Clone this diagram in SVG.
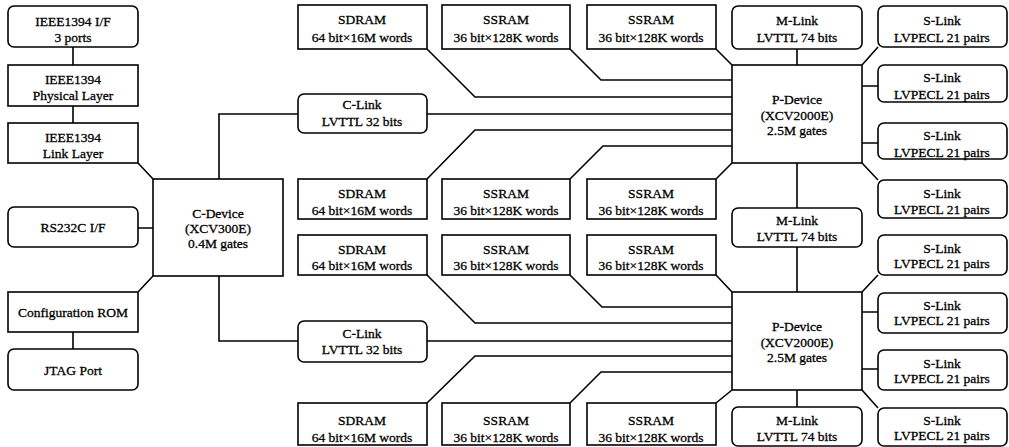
<svg xmlns="http://www.w3.org/2000/svg" width="1009" height="447" viewBox="0 0 1009 447">
<style>
.box{fill:#fff;stroke:#000;stroke-width:1.6}
.conn{fill:none;stroke:#000;stroke-width:1.6;stroke-linejoin:miter}
text{font-family:"Liberation Serif","Times New Roman",serif;font-size:13.5px;text-anchor:middle;dominant-baseline:central;fill:#000;stroke:#000;stroke-width:0.3}
</style>
<rect width="1009" height="447" fill="#fff"/>
<g id="connectors" class="conn">
<path d="M73,47V65M73,106V123M138,163L153,179M138,228H153M138,292L153,276M73,332V349"/>
<path d="M219,179V114H298M219,276V341H298"/>
<path d="M427,114H732M427,341H732"/>
<path d="M427,49L475,97H732M570,49L601,80H732M716,49L732,65"/>
<path d="M427,179L475,130H732M570,179L603,146H732M716,179L732,163"/>
<path d="M427,275L475,323H732M570,275L602,307H732M716,275L732,292"/>
<path d="M427,403L475,356H732M570,403L601,372H732M716,403L732,390"/>
<path d="M797,49V65M797,163V208M797,247V292M797,390V407"/>
<path d="M878,47L862,65M862,86H878M862,143H878M878,180L862,163"/>
<path d="M878,275L862,292M862,312H878M862,369H878M878,408L862,390"/>
</g>
<g id="ieee-if"><rect class="box" x="8" y="6" width="130" height="41" rx="6"/><text x="73" y="21">IEEE1394 I/F</text><text x="73" y="37">3 ports</text></g>
<g id="ieee-phy"><rect class="box" x="8" y="65" width="130" height="41"/><text x="73" y="79">IEEE1394</text><text x="73" y="95">Physical Layer</text></g>
<g id="ieee-link"><rect class="box" x="8" y="123" width="130" height="40"/><text x="73" y="137">IEEE1394</text><text x="73" y="153">Link Layer</text></g>
<g id="rs232c"><rect class="box" x="8" y="207" width="130" height="40" rx="6"/><text x="73" y="227">RS232C I/F</text></g>
<g id="config-rom"><rect class="box" x="8" y="292" width="130" height="40"/><text x="73" y="312">Configuration ROM</text></g>
<g id="jtag"><rect class="box" x="8" y="349" width="130" height="41" rx="6"/><text x="73" y="370">JTAG Port</text></g>
<g id="c-device"><rect class="box" x="153" y="179" width="130" height="97"/><text x="218" y="213">C-Device</text><text x="218" y="228">(XCV300E)</text><text x="218" y="243">0.4M gates</text></g>
<g id="c-link-1"><rect class="box" x="298" y="94" width="129" height="39" rx="6"/><text x="362" y="104">C-Link</text><text x="362" y="121">LVTTL 32 bits</text></g>
<g id="c-link-2"><rect class="box" x="298" y="321" width="129" height="41" rx="6"/><text x="362" y="333">C-Link</text><text x="362" y="349">LVTTL 32 bits</text></g>
<g id="sdram-1"><rect class="box" x="298" y="5" width="129" height="44"/><text x="362" y="19">SDRAM</text><text x="362" y="37">64 bit×16M words</text></g>
<g id="ssram-1a"><rect class="box" x="442" y="5" width="128" height="44"/><text x="506" y="19">SSRAM</text><text x="506" y="37">36 bit×128K words</text></g>
<g id="ssram-1b"><rect class="box" x="587" y="5" width="129" height="44"/><text x="651" y="19">SSRAM</text><text x="651" y="37">36 bit×128K words</text></g>
<g id="sdram-2"><rect class="box" x="298" y="179" width="129" height="40"/><text x="362" y="193">SDRAM</text><text x="362" y="210">64 bit×16M words</text></g>
<g id="ssram-2a"><rect class="box" x="442" y="179" width="128" height="40"/><text x="506" y="193">SSRAM</text><text x="506" y="210">36 bit×128K words</text></g>
<g id="ssram-2b"><rect class="box" x="587" y="179" width="129" height="40"/><text x="651" y="193">SSRAM</text><text x="651" y="210">36 bit×128K words</text></g>
<g id="sdram-3"><rect class="box" x="298" y="235" width="129" height="40"/><text x="362" y="249">SDRAM</text><text x="362" y="265">64 bit×16M words</text></g>
<g id="ssram-3a"><rect class="box" x="442" y="235" width="128" height="40"/><text x="506" y="249">SSRAM</text><text x="506" y="265">36 bit×128K words</text></g>
<g id="ssram-3b"><rect class="box" x="587" y="235" width="129" height="40"/><text x="651" y="249">SSRAM</text><text x="651" y="265">36 bit×128K words</text></g>
<g id="sdram-4"><rect class="box" x="298" y="403" width="129" height="42"/><text x="362" y="420">SDRAM</text><text x="362" y="437">64 bit×16M words</text></g>
<g id="ssram-4a"><rect class="box" x="442" y="403" width="128" height="42"/><text x="506" y="420">SSRAM</text><text x="506" y="437">36 bit×128K words</text></g>
<g id="ssram-4b"><rect class="box" x="587" y="403" width="129" height="42"/><text x="651" y="420">SSRAM</text><text x="651" y="437">36 bit×128K words</text></g>
<g id="p-device-1"><rect class="box" x="732" y="65" width="130" height="98"/><text x="797" y="99">P-Device</text><text x="797" y="115">(XCV2000E)</text><text x="797" y="130">2.5M gates</text></g>
<g id="p-device-2"><rect class="box" x="732" y="292" width="130" height="98"/><text x="797" y="326">P-Device</text><text x="797" y="342">(XCV2000E)</text><text x="797" y="357">2.5M gates</text></g>
<g id="m-link-1"><rect class="box" x="732" y="6" width="130" height="43" rx="6"/><text x="797" y="20">M-Link</text><text x="797" y="37">LVTTL 74 bits</text></g>
<g id="m-link-2"><rect class="box" x="732" y="208" width="130" height="39" rx="6"/><text x="797" y="220">M-Link</text><text x="797" y="236">LVTTL 74 bits</text></g>
<g id="m-link-3"><rect class="box" x="732" y="407" width="130" height="39" rx="6"/><text x="797" y="420">M-Link</text><text x="797" y="436">LVTTL 74 bits</text></g>
<g id="s-link-1"><rect class="box" x="878" y="6" width="129" height="41" rx="6"/><text x="942" y="20">S-Link</text><text x="942" y="37">LVPECL 21 pairs</text></g>
<g id="s-link-2"><rect class="box" x="878" y="65" width="129" height="37" rx="6"/><text x="942" y="77">S-Link</text><text x="942" y="94">LVPECL 21 pairs</text></g>
<g id="s-link-3"><rect class="box" x="878" y="123" width="129" height="36" rx="6"/><text x="942" y="135">S-Link</text><text x="942" y="152">LVPECL 21 pairs</text></g>
<g id="s-link-4"><rect class="box" x="878" y="180" width="129" height="38" rx="6"/><text x="942" y="193">S-Link</text><text x="942" y="209">LVPECL 21 pairs</text></g>
<g id="s-link-5"><rect class="box" x="878" y="235" width="129" height="40" rx="6"/><text x="942" y="248">S-Link</text><text x="942" y="263">LVPECL 21 pairs</text></g>
<g id="s-link-6"><rect class="box" x="878" y="293" width="129" height="40" rx="6"/><text x="942" y="305">S-Link</text><text x="942" y="320">LVPECL 21 pairs</text></g>
<g id="s-link-7"><rect class="box" x="878" y="350" width="129" height="40" rx="6"/><text x="942" y="363">S-Link</text><text x="942" y="378">LVPECL 21 pairs</text></g>
<g id="s-link-8"><rect class="box" x="878" y="408" width="129" height="38" rx="6"/><text x="942" y="420">S-Link</text><text x="942" y="435">LVPECL 21 pairs</text></g>
</svg>
